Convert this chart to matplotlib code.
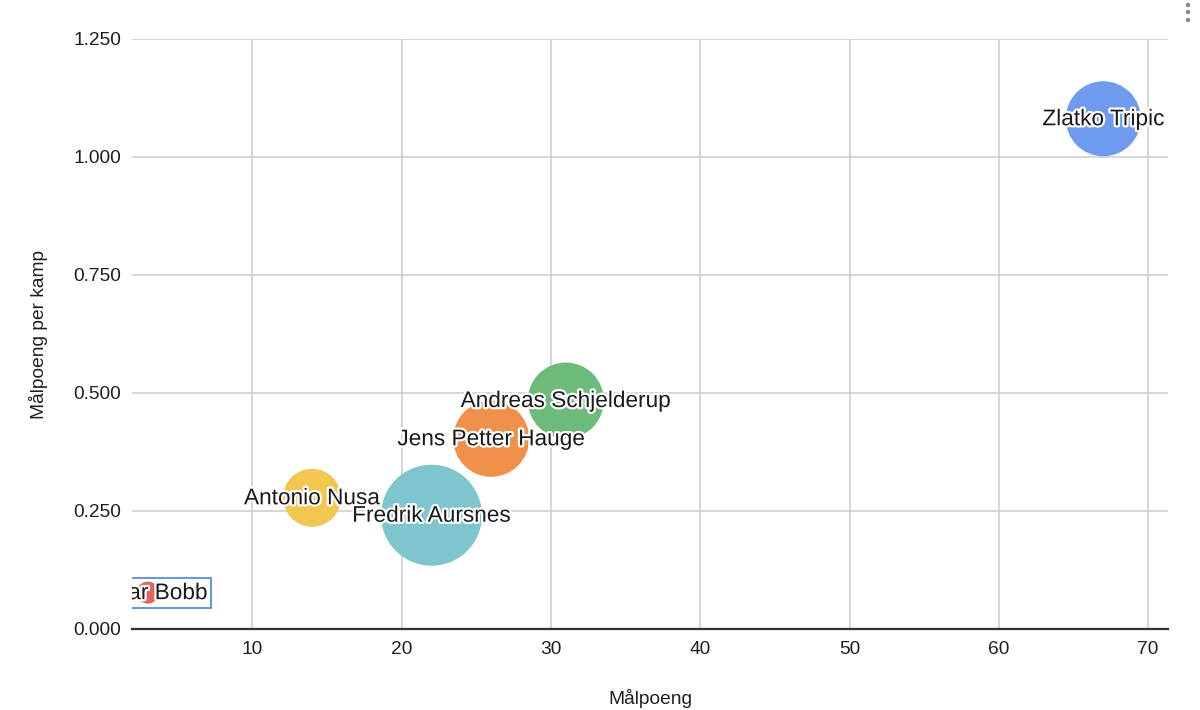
import matplotlib
matplotlib.use("Agg")
import matplotlib.pyplot as plt
import matplotlib.patheffects as pe
from matplotlib.patches import Ellipse
from matplotlib.ticker import FuncFormatter, MultipleLocator

plt.rcParams['font.family'] = ['Liberation Sans', 'DejaVu Sans']

# data
spillere = ["Zlatko Tripic", "Andreas Schjelderup", "Jens Petter Hauge",
            "Antonio Nusa", "Fredrik Aursnes", "Oscar Bobb"]
malpoeng = [67, 31, 26, 14, 22, 3]
per_kamp = [1.081, 0.484, 0.403, 0.278, 0.241, 0.077]
storrelse = [37.5, 38, 38, 29, 50.5, 11]   # bubble radius (px)
farger = ["#6f9bee", "#6dbb7b", "#f0904a", "#f2c74f", "#7ec5cd", "#e0675b"]

W, H = 1200, 710
fig = plt.figure(figsize=(W / 100, H / 100), dpi=100)
ax = fig.add_axes([0.11, 0.1141, 0.8633, 0.831])

s = [(2 * r * 0.72) ** 2 for r in storrelse]
ax.scatter(malpoeng, per_kamp, s=s, c=farger, linewidths=0, zorder=3)

halo = [pe.withStroke(linewidth=3.2, foreground="white")]
for i, navn in enumerate(spillere):
    t = ax.text(malpoeng[i], per_kamp[i], navn, fontsize=16.3, color="#1a1a1a",
                ha="center", va="center", zorder=5, clip_on=True,
                path_effects=halo)
    if navn == "Oscar Bobb":
        t.set_bbox(dict(boxstyle="square,pad=0.15", fc="none",
                        ec="#5b8be6", lw=1.3))

ax.set_xlim(1.94, 71.33)
ax.set_ylim(0, 1.25)
ax.xaxis.set_major_locator(MultipleLocator(10))
ax.yaxis.set_major_locator(MultipleLocator(0.25))
ax.yaxis.set_major_formatter(FuncFormatter(lambda v, p: f"{v:.3f}"))
ax.grid(True, color="#cccccc", linewidth=1.1, zorder=0)
ax.set_axisbelow(True)
for side in ["top", "right", "left"]:
    ax.spines[side].set_visible(False)
ax.spines["bottom"].set_color("#333333")
ax.spines["bottom"].set_linewidth(1.6)
ax.spines["bottom"].set_zorder(4)
ax.tick_params(length=0, labelsize=13.8, colors="#1f1f1f")
ax.tick_params(axis="x", pad=9)
ax.tick_params(axis="y", pad=8)

ax.set_xlabel("Målpoeng", fontsize=13.8, color="#1f1f1f", labelpad=22)
ax.set_ylabel("Målpoeng per kamp", fontsize=13.8, color="#1f1f1f", labelpad=18)

# menu dots in the top right corner
for py in (5, 12, 20):
    fig.add_artist(Ellipse((1188 / W, 1 - py / H), 4.5 / W, 4.5 / H,
                           transform=fig.transFigure, color="#8a8a8a", lw=0))

fig.savefig("out.png", dpi=100)
